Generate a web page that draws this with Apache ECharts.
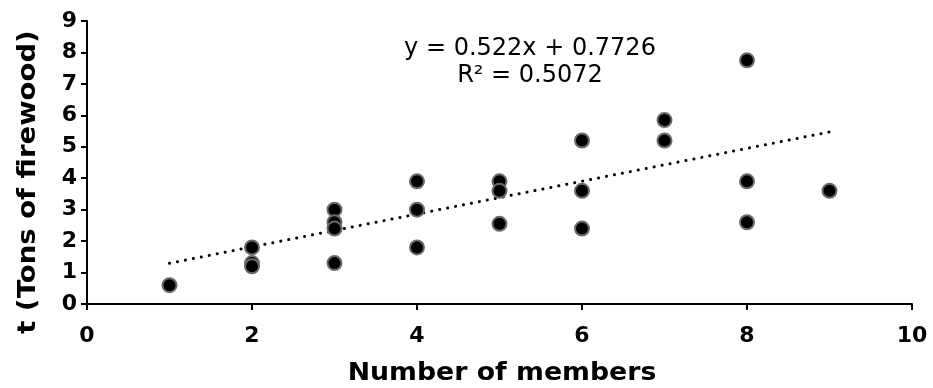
<!DOCTYPE html>
<html>
<head>
<meta charset="utf-8">
<script src="https://cdn.jsdelivr.net/npm/echarts@6/dist/echarts.min.js"></script>
<style>
  html, body { margin: 0; padding: 0; background: #fff; }
  #chart { width: 933px; height: 388px; }
</style>
</head>
<body>
<div id="chart"></div>
<script>
// members in the household vs tons of firewood
const members = [1, 2, 2, 2, 3, 3, 3, 3, 4, 4, 4, 5, 5, 5, 6, 6, 6, 7, 7, 8, 8, 8, 9];
const firewood = [0.6, 1.8, 1.3, 1.2, 3.0, 2.6, 2.4, 1.3, 3.9, 3.0, 1.8, 3.9, 3.6, 2.55, 5.2, 3.6, 2.4, 5.85, 5.2, 7.75, 3.9, 2.6, 3.6];

// trendline as printed on the chart
const slope = 0.522;
const intercept = 0.7726;
const trendX = [1, 9];
const equationText = "y = 0.522x + 0.7726\nR² = 0.5072";

const points = members.map((m, i) => [m, firewood[i]]);
const trend = trendX.map(x => [x, slope * x + intercept]);

const chart = echarts.init(document.getElementById("chart"), null, { renderer: "canvas" });

const tickFont = { fontFamily: "DejaVu Sans", fontWeight: "bold", fontSize: 22, color: "#000" };
const titleStyle = { fontFamily: "DejaVu Sans", fontWeight: "bold", fontSize: 25, fill: "#000", align: "center", verticalAlign: "middle" };

chart.setOption({
  animation: false,
  grid: { left: 87, right: 21, top: 21, bottom: 84 },
  xAxis: {
    type: "value",
    min: 0, max: 10, interval: 2,
    axisLine: { show: true, lineStyle: { color: "#000", width: 2 } },
    axisTick: { show: true, inside: false, length: 6, lineStyle: { color: "#000", width: 2 } },
    axisLabel: Object.assign({ margin: 21 }, tickFont),
    splitLine: { show: false }
  },
  yAxis: {
    type: "value",
    min: 0, max: 9, interval: 1,
    axisLine: { show: true, lineStyle: { color: "#000", width: 2 } },
    axisTick: { show: true, inside: false, length: 6, lineStyle: { color: "#000", width: 2 } },
    axisLabel: Object.assign({ margin: 10 }, tickFont),
    splitLine: { show: false }
  },
  graphic: [
    {
      type: "text",
      x: 28, y: 182,
      rotation: Math.PI / 2,
      scaleX: 1.1,
      style: Object.assign({ text: "t (Tons of firewood)" }, titleStyle)
    },
    {
      type: "text",
      x: 502, y: 373,
      scaleX: 1.07,
      style: Object.assign({ text: "Number of members" }, titleStyle)
    },
    {
      type: "text",
      x: 530, y: 62,
      style: {
        text: equationText,
        fontFamily: "DejaVu Sans", fontSize: 24, lineHeight: 27,
        fill: "#000", align: "center", verticalAlign: "middle"
      }
    }
  ],
  series: [
    {
      type: "line",
      data: trend,
      symbol: "none",
      z: 1,
      lineStyle: { color: "#000", width: 3, type: [0.1, 8], cap: "round" }
    },
    {
      type: "scatter",
      data: points,
      symbol: "circle",
      symbolSize: 14,
      z: 2,
      itemStyle: { color: "#000", borderColor: "#6a6a6a", borderWidth: 2, opacity: 1 }
    }
  ]
});
</script>
</body>
</html>
